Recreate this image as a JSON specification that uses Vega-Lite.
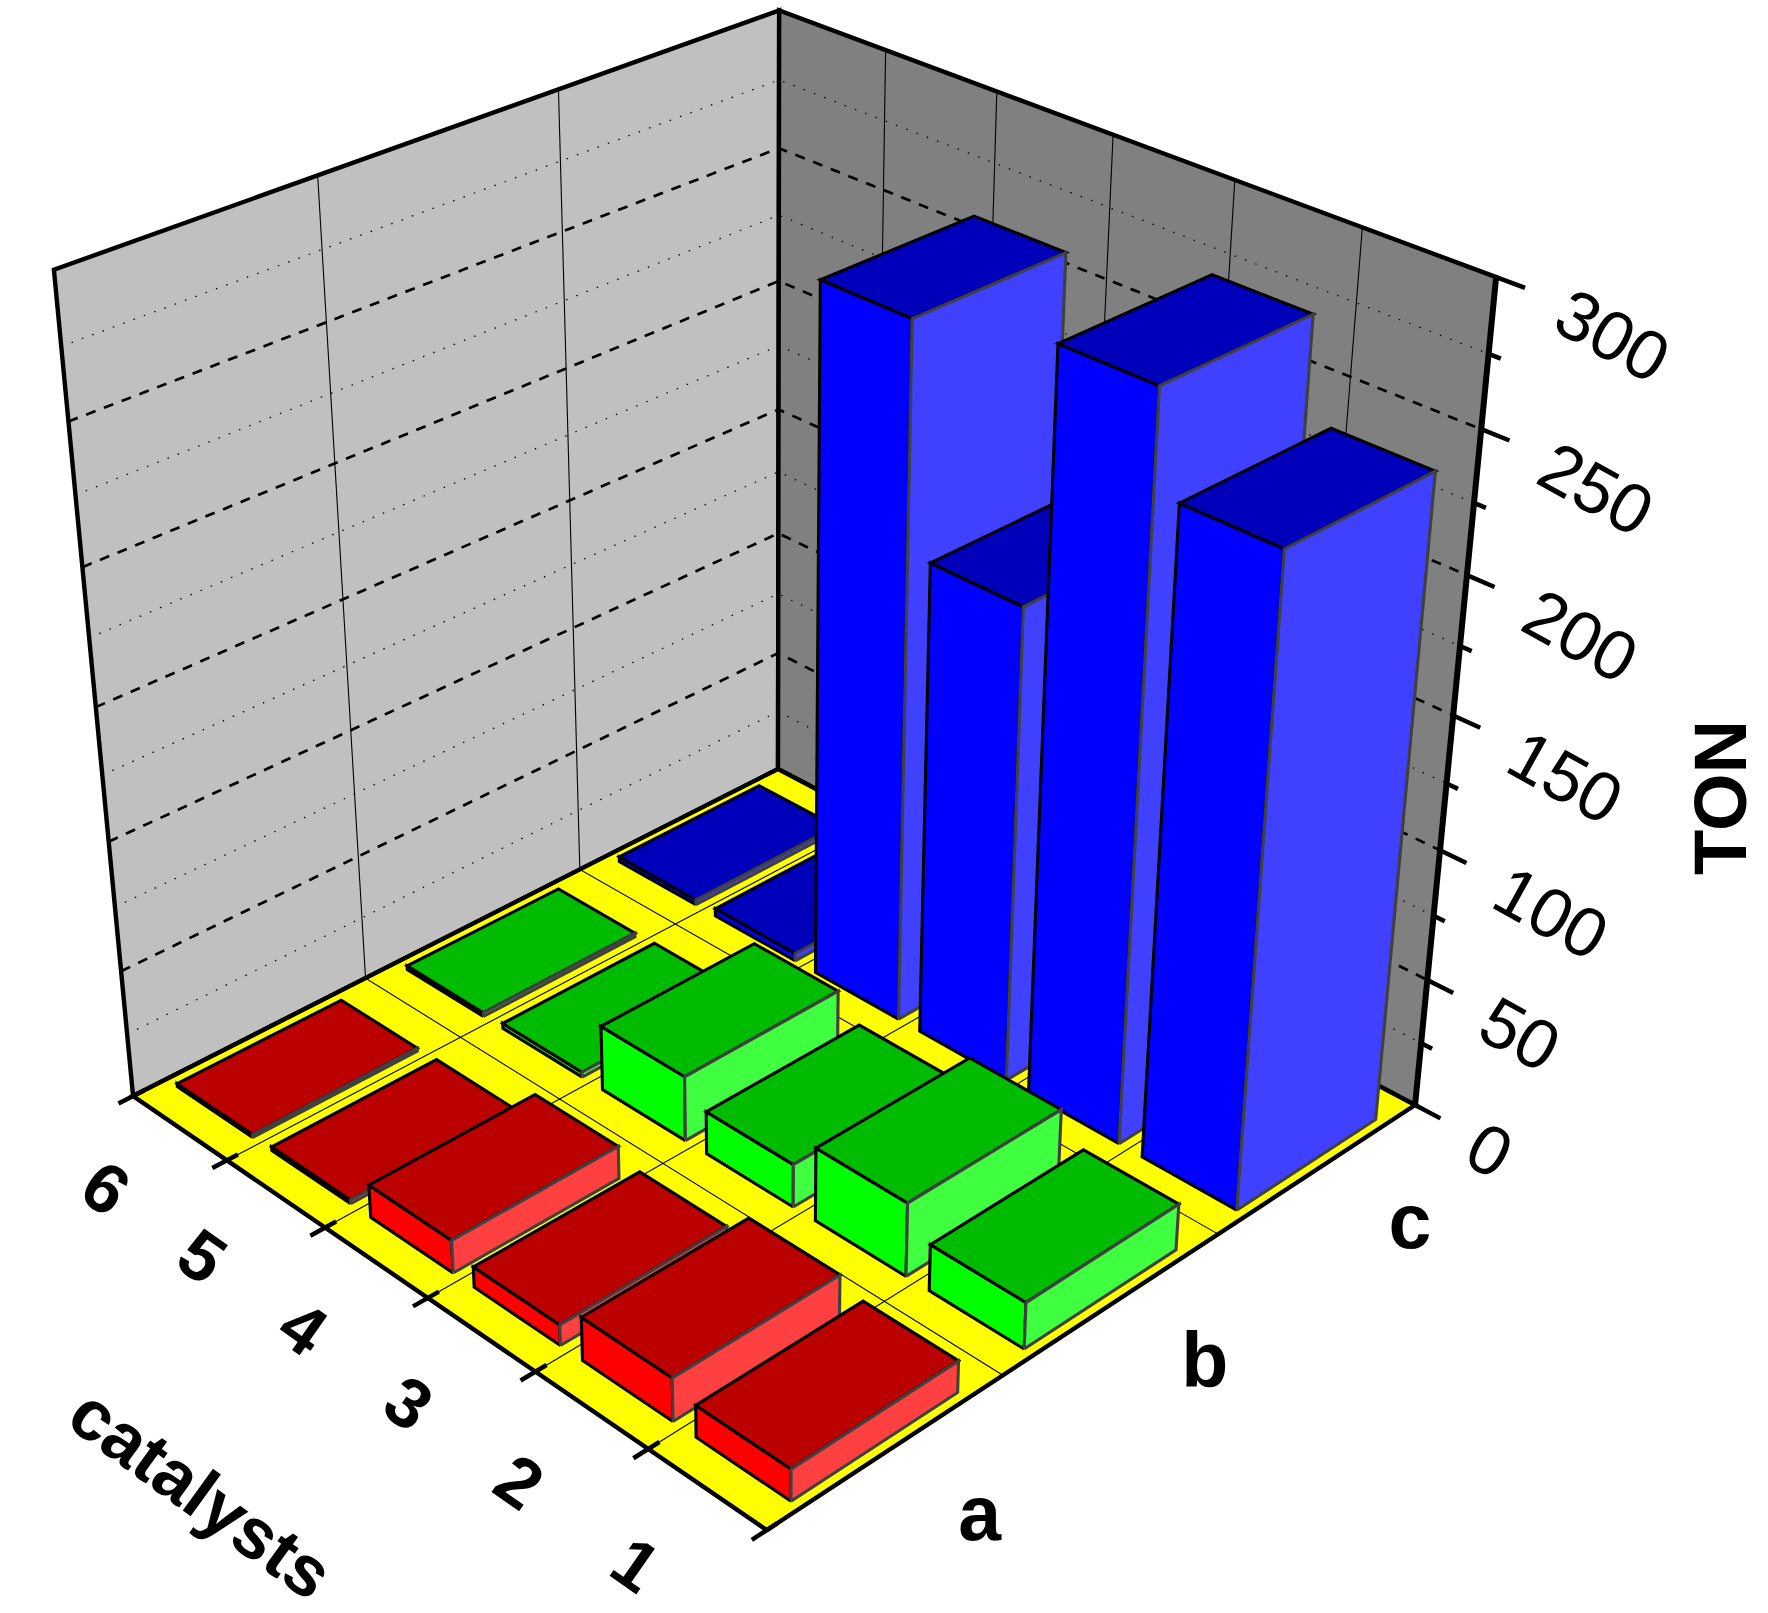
{
"$schema":"https://vega.github.io/schema/vega-lite/v6.json",
"width":1768,"height":1613,"padding":0,
"autosize":{"type":"none"},
"background":"white",
"config":{"view":{"stroke":null},"text":{"font":"Liberation Sans"}},
"resolve":{"scale":{"fill":"independent"}},
"datasets":{
"bars":[
{"catalyst":6,"group":"c","TON":2},{"catalyst":6,"group":"b","TON":1.5},{"catalyst":6,"group":"a","TON":1.2},
{"catalyst":5,"group":"c","TON":3},{"catalyst":5,"group":"b","TON":2},{"catalyst":5,"group":"a","TON":1.5},
{"catalyst":4,"group":"c","TON":263},{"catalyst":4,"group":"b","TON":25.6},{"catalyst":4,"group":"a","TON":12.8},
{"catalyst":3,"group":"c","TON":181},{"catalyst":3,"group":"b","TON":16.8},{"catalyst":3,"group":"a","TON":8},
{"catalyst":2,"group":"c","TON":275},{"catalyst":2,"group":"b","TON":28.6},{"catalyst":2,"group":"a","TON":16.7},
{"catalyst":1,"group":"c","TON":240},{"catalyst":1,"group":"b","TON":18},{"catalyst":1,"group":"a","TON":12.2}],
"planes":[{"plane":"catalyst wall"},{"plane":"group wall"},{"plane":"floor"}],
"tonTicks":[{"ton":0},{"ton":25},{"ton":50},{"ton":75},{"ton":100},{"ton":125},{"ton":150},{"ton":175},{"ton":200},{"ton":225},{"ton":250},{"ton":275},{"ton":300}],
"catalystEdges":[{"edge":0},{"edge":1},{"edge":2},{"edge":3},{"edge":4},{"edge":5},{"edge":6}],
"groupEdges":[{"edge":1},{"edge":2}],
"catalysts":[{"catalyst":1},{"catalyst":2},{"catalyst":3},{"catalyst":4},{"catalyst":5},{"catalyst":6}],
"groups":[{"group":"a","index":0},{"group":"b","index":1},{"group":"c","index":2}]
},
"layer":[
{"data":{"name":"planes"},
"transform":[
{"calculate":"[0,1,2,3,4]","as":"corner"},{"flatten":["corner"]},
{"calculate":"datum.plane=='catalyst wall'?1:datum.plane=='group wall'?[1,0,0,1,1][datum.corner]:[0,1,1,0,0][datum.corner]","as":"U"},
{"calculate":"datum.plane=='catalyst wall'?[0,1,1,0,0][datum.corner]:datum.plane=='group wall'?1:[0,0,1,1,0][datum.corner]","as":"V"},
{"calculate":"datum.plane=='floor'?0:[0,0,1,1,0][datum.corner]","as":"Z"},
{"calculate":"1+0.14971*datum.U+0.14626*datum.V-0.1275*datum.Z","as":"w"},
{"calculate":"(680-544.33*datum.U+758.56*datum.V-86.8*datum.Z)/datum.w","as":"px"},
{"calculate":"(1357-239.48*datum.U-233.67*datum.V-873*datum.Z)/datum.w","as":"py"}],
"mark":{"type":"line","filled":true,"stroke":"#000000","strokeWidth":4.4,"strokeJoin":"miter"},
"encoding":{
"x":{"field":"px","type":"quantitative","scale":{"domain":[0,1568],"nice":false,"zero":false},"axis":null},
"y":{"field":"py","type":"quantitative","scale":{"domain":[1430.5,0],"nice":false,"zero":false},"axis":null},
"order":{"field":"corner"},
"detail":{"field":"plane"},
"fill":{"field":"plane","type":"nominal","scale":{"domain":["catalyst wall","group wall","floor"],"range":["#c0c0c0","#808080","#ffff00"]},"legend":null}}},
{"data":{"name":"tonTicks"},
"transform":[
{"filter":"datum.ton%50==0&&datum.ton>0&&datum.ton<300"},
{"calculate":"[0,1,2]","as":"corner"},{"flatten":["corner"]},
{"calculate":"datum.corner==2?0:1","as":"U"},{"calculate":"datum.corner==0?0:1","as":"V"},{"calculate":"datum.ton/300","as":"Z"},
{"calculate":"1+0.14971*datum.U+0.14626*datum.V-0.1275*datum.Z","as":"w"},
{"calculate":"(680-544.33*datum.U+758.56*datum.V-86.8*datum.Z)/datum.w","as":"px"},
{"calculate":"(1357-239.48*datum.U-233.67*datum.V-873*datum.Z)/datum.w","as":"py"}],
"mark":{"type":"line","stroke":"#000000","strokeWidth":2.7,"strokeDash":[10,9]},
"encoding":{"x":{"field":"px","type":"quantitative","axis":null},"y":{"field":"py","type":"quantitative","axis":null},"order":{"field":"corner"},"detail":{"field":"ton"}}},
{"data":{"name":"tonTicks"},
"transform":[
{"filter":"datum.ton%50!=0"},
{"calculate":"[0,1,2]","as":"corner"},{"flatten":["corner"]},
{"calculate":"datum.corner==2?0:1","as":"U"},{"calculate":"datum.corner==0?0:1","as":"V"},{"calculate":"datum.ton/300","as":"Z"},
{"calculate":"1+0.14971*datum.U+0.14626*datum.V-0.1275*datum.Z","as":"w"},
{"calculate":"(680-544.33*datum.U+758.56*datum.V-86.8*datum.Z)/datum.w","as":"px"},
{"calculate":"(1357-239.48*datum.U-233.67*datum.V-873*datum.Z)/datum.w","as":"py"}],
"mark":{"type":"line","stroke":"#000000","strokeWidth":1.3,"strokeDash":[1.5,9.5]},
"encoding":{"x":{"field":"px","type":"quantitative","axis":null},"y":{"field":"py","type":"quantitative","axis":null},"order":{"field":"corner"},"detail":{"field":"ton"}}},
{"data":{"name":"catalystEdges"},
"transform":[
{"filter":"datum.edge>0&&datum.edge<6"},
{"calculate":"[0,1,2]","as":"corner"},{"flatten":["corner"]},
{"calculate":"datum.edge/6","as":"U"},{"calculate":"datum.corner==2?0:1","as":"V"},{"calculate":"datum.corner==0?1:0","as":"Z"},
{"calculate":"1+0.14971*datum.U+0.14626*datum.V-0.1275*datum.Z","as":"w"},
{"calculate":"(680-544.33*datum.U+758.56*datum.V-86.8*datum.Z)/datum.w","as":"px"},
{"calculate":"(1357-239.48*datum.U-233.67*datum.V-873*datum.Z)/datum.w","as":"py"}],
"mark":{"type":"line","stroke":"#000000","strokeWidth":1.1},
"encoding":{"x":{"field":"px","type":"quantitative","axis":null},"y":{"field":"py","type":"quantitative","axis":null},"order":{"field":"corner"},"detail":{"field":"edge"}}},
{"data":{"name":"groupEdges"},
"transform":[
{"calculate":"[0,1,2]","as":"corner"},{"flatten":["corner"]},
{"calculate":"datum.corner==2?0:1","as":"U"},{"calculate":"datum.edge/3","as":"V"},{"calculate":"datum.corner==0?1:0","as":"Z"},
{"calculate":"1+0.14971*datum.U+0.14626*datum.V-0.1275*datum.Z","as":"w"},
{"calculate":"(680-544.33*datum.U+758.56*datum.V-86.8*datum.Z)/datum.w","as":"px"},
{"calculate":"(1357-239.48*datum.U-233.67*datum.V-873*datum.Z)/datum.w","as":"py"}],
"mark":{"type":"line","stroke":"#000000","strokeWidth":1.1},
"encoding":{"x":{"field":"px","type":"quantitative","axis":null},"y":{"field":"py","type":"quantitative","axis":null},"order":{"field":"corner"},"detail":{"field":"edge"}}},
{"data":{"name":"catalystEdges"},
"transform":[
{"calculate":"[0,1]","as":"corner"},{"flatten":["corner"]},
{"calculate":"datum.edge/6","as":"U"},{"calculate":"datum.corner==0?-0.02:0.015","as":"V"},{"calculate":"0","as":"Z"},
{"calculate":"1+0.14971*datum.U+0.14626*datum.V-0.1275*datum.Z","as":"w"},
{"calculate":"(680-544.33*datum.U+758.56*datum.V-86.8*datum.Z)/datum.w","as":"px"},
{"calculate":"(1357-239.48*datum.U-233.67*datum.V-873*datum.Z)/datum.w","as":"py"}],
"mark":{"type":"line","stroke":"#000000","strokeWidth":4.5},
"encoding":{"x":{"field":"px","type":"quantitative","axis":null},"y":{"field":"py","type":"quantitative","axis":null},"order":{"field":"corner"},"detail":{"field":"edge"}}},
{"data":{"name":"tonTicks"},
"transform":[
{"calculate":"[0,1]","as":"corner"},{"flatten":["corner"]},
{"calculate":"datum.corner==0?0:(datum.ton%50==0?-0.035:-0.015)","as":"U"},{"calculate":"1","as":"V"},{"calculate":"datum.ton/300","as":"Z"},
{"calculate":"1+0.14971*datum.U+0.14626*datum.V-0.1275*datum.Z","as":"w"},
{"calculate":"(680-544.33*datum.U+758.56*datum.V-86.8*datum.Z)/datum.w","as":"px"},
{"calculate":"(1357-239.48*datum.U-233.67*datum.V-873*datum.Z)/datum.w","as":"py"}],
"mark":{"type":"line","stroke":"#000000","strokeWidth":4.5},
"encoding":{"x":{"field":"px","type":"quantitative","axis":null},"y":{"field":"py","type":"quantitative","axis":null},"order":{"field":"corner"},"detail":{"field":"ton"}}},
{"data":{"name":"tonTicks"},
"transform":[
{"filter":"datum.ton==0||datum.ton==300"},
{"calculate":"0","as":"U"},{"calculate":"1","as":"V"},{"calculate":"datum.ton/300","as":"Z"},
{"calculate":"1+0.14971*datum.U+0.14626*datum.V-0.1275*datum.Z","as":"w"},
{"calculate":"(680-544.33*datum.U+758.56*datum.V-86.8*datum.Z)/datum.w","as":"px"},
{"calculate":"(1357-239.48*datum.U-233.67*datum.V-873*datum.Z)/datum.w","as":"py"}],
"mark":{"type":"line","stroke":"#000000","strokeWidth":6},
"encoding":{"x":{"field":"px","type":"quantitative","axis":null},"y":{"field":"py","type":"quantitative","axis":null},"order":{"field":"ton"}}},
{"data":{"name":"bars"},
"transform":[
{"calculate":"indexof(['a','b','c'],datum.group)","as":"g"},
{"calculate":"[0,2,1]","as":"face"},{"flatten":["face"]},
{"calculate":"[0,1,2,3,4]","as":"corner"},{"flatten":["corner"]},
{"calculate":"[[0,1,1,0,0],[0,0,0,0,0],[0,1,1,0,0]][datum.face][datum.corner]","as":"su"},
{"calculate":"[[0,0,0,0,0],[0,1,1,0,0],[0,0,1,1,0]][datum.face][datum.corner]","as":"sv"},
{"calculate":"[[0,0,1,1,0],[0,0,1,1,0],[1,1,1,1,1]][datum.face][datum.corner]","as":"sz"},
{"calculate":"(datum.catalyst-1+0.08+0.8*datum.su)/6","as":"U"},
{"calculate":"(datum.g+0.138+0.705*datum.sv)/3","as":"V"},
{"calculate":"datum.TON/300*datum.sz","as":"Z"},
{"calculate":"1+0.14971*datum.U+0.14626*datum.V-0.1275*datum.Z","as":"w"},
{"calculate":"(680-544.33*datum.U+758.56*datum.V-86.8*datum.Z)/datum.w","as":"px"},
{"calculate":"(1357-239.48*datum.U-233.67*datum.V-873*datum.Z)/datum.w","as":"py"},
{"calculate":"datum.group+datum.face","as":"shade"},
{"calculate":"datum.catalyst+datum.group+datum.face","as":"faceId"}],
"mark":{"type":"line","filled":true,"strokeWidth":3.1,"strokeJoin":"miter"},
"encoding":{
"x":{"field":"px","type":"quantitative","axis":null},
"y":{"field":"py","type":"quantitative","axis":null},
"order":{"field":"corner"},
"detail":{"field":"faceId"},
"fill":{"field":"shade","type":"nominal","scale":{"domain":["a0","a1","a2","b0","b1","b2","c0","c1","c2"],"range":["#ff0000","#ff4040","#bb0000","#00ff00","#40ff40","#00bb00","#0000ff","#4040ff","#0000bb"]},"legend":null},
"stroke":{"field":"face","type":"nominal","scale":{"domain":[0,1,2],"range":["#000000","#404040","#000000"]},"legend":null}}},
{"data":{"name":"tonTicks"},
"transform":[
{"filter":"datum.ton%50==0"},
{"calculate":"-0.075","as":"U"},{"calculate":"1","as":"V"},{"calculate":"datum.ton/300","as":"Z"},
{"calculate":"1+0.14971*datum.U+0.14626*datum.V-0.1275*datum.Z","as":"w"},
{"calculate":"(680-544.33*datum.U+758.56*datum.V-86.8*datum.Z)/datum.w","as":"px"},
{"calculate":"(1357-239.48*datum.U-233.67*datum.V-873*datum.Z)/datum.w","as":"py"}],
"mark":{"type":"text","fontSize":70,"angle":29,"align":"left","baseline":"middle","dx":6,"dy":8,"color":"#000000"},
"encoding":{"x":{"field":"px","type":"quantitative","axis":null},"y":{"field":"py","type":"quantitative","axis":null},"text":{"field":"ton","type":"quantitative"}}},
{"data":{"name":"catalysts"},
"transform":[
{"calculate":"(datum.catalyst-0.5)/6-0.03","as":"U"},{"calculate":"-0.12","as":"V"},{"calculate":"0","as":"Z"},
{"calculate":"1+0.14971*datum.U+0.14626*datum.V-0.1275*datum.Z","as":"w"},
{"calculate":"(680-544.33*datum.U+758.56*datum.V-86.8*datum.Z)/datum.w","as":"px"},
{"calculate":"(1357-239.48*datum.U-233.67*datum.V-873*datum.Z)/datum.w","as":"py"}],
"mark":{"type":"text","fontSize":70,"fontWeight":"bold","angle":35,"align":"center","baseline":"middle","dy":6,"color":"#000000"},
"encoding":{"x":{"field":"px","type":"quantitative","axis":null},"y":{"field":"py","type":"quantitative","axis":null},"text":{"field":"catalyst","type":"quantitative"}}},
{"data":{"name":"groups"},
"transform":[
{"calculate":"-0.12","as":"U"},{"calculate":"(datum.index+0.5)/3","as":"V"},{"calculate":"0","as":"Z"},
{"calculate":"1+0.14971*datum.U+0.14626*datum.V-0.1275*datum.Z","as":"w"},
{"calculate":"(680-544.33*datum.U+758.56*datum.V-86.8*datum.Z)/datum.w","as":"px"},
{"calculate":"(1357-239.48*datum.U-233.67*datum.V-873*datum.Z)/datum.w","as":"py"}],
"mark":{"type":"text","fontSize":77,"fontWeight":"bold","align":"center","baseline":"middle","dx":3,"dy":8,"color":"#000000"},
"encoding":{"x":{"field":"px","type":"quantitative","axis":null},"y":{"field":"py","type":"quantitative","axis":null},"text":{"field":"group","type":"nominal"}}},
{"data":{"values":[{"title":"TON"}]},
"transform":[
{"calculate":"-0.33","as":"U"},{"calculate":"1","as":"V"},{"calculate":"0.545","as":"Z"},
{"calculate":"1+0.14971*datum.U+0.14626*datum.V-0.1275*datum.Z","as":"w"},
{"calculate":"(680-544.33*datum.U+758.56*datum.V-86.8*datum.Z)/datum.w","as":"px"},
{"calculate":"(1357-239.48*datum.U-233.67*datum.V-873*datum.Z)/datum.w","as":"py"}],
"mark":{"type":"text","fontSize":74,"fontWeight":"bold","angle":270,"align":"center","baseline":"middle","color":"#000000"},
"encoding":{"x":{"field":"px","type":"quantitative","axis":null},"y":{"field":"py","type":"quantitative","axis":null},"text":{"field":"title","type":"nominal"}}},
{"data":{"values":[{"title":"catalysts"}]},
"transform":[
{"calculate":"0.42","as":"U"},{"calculate":"-0.36","as":"V"},{"calculate":"0","as":"Z"},
{"calculate":"1+0.14971*datum.U+0.14626*datum.V-0.1275*datum.Z","as":"w"},
{"calculate":"(680-544.33*datum.U+758.56*datum.V-86.8*datum.Z)/datum.w","as":"px"},
{"calculate":"(1357-239.48*datum.U-233.67*datum.V-873*datum.Z)/datum.w","as":"py"}],
"mark":{"type":"text","fontSize":71,"fontWeight":"bold","angle":36,"align":"center","baseline":"middle","color":"#000000"},
"encoding":{"x":{"field":"px","type":"quantitative","axis":null},"y":{"field":"py","type":"quantitative","axis":null},"text":{"field":"title","type":"nominal"}}}
]
}
